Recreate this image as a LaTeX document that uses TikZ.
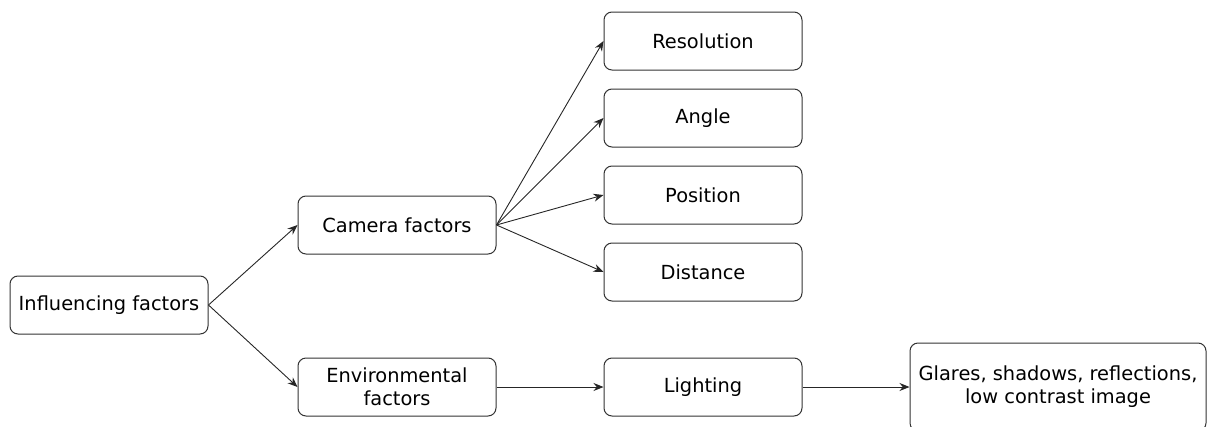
\documentclass[tikz,border=0pt]{standalone}
\usepackage{fontspec}
\setmainfont{DejaVu Sans}
\usetikzlibrary{arrows.meta}

\begin{document}
\begin{tikzpicture}[
    x=1pt, y=-1pt,
    factor/.style={draw=black!80, line width=1pt, rounded corners=8pt,
                   minimum width=198pt, minimum height=58pt, align=center,
                   inner sep=2pt, font=\fontsize{19.4}{23}\selectfont},
    link/.style={draw=black!85, line width=0.9pt, -{Stealth[length=10pt,width=8pt]}}
]
    \useasboundingbox (0,0) rectangle (1208,426);

    \node[factor] (infl)   at (109,305) {Influencing factors};
    \node[factor] (camera) at (397,225) {Camera factors};
    \node[factor] (env)    at (397,387) {Environmental\\factors};

    \node[factor] (res)    at (703,41)  {Resolution};
    \node[factor] (angle)  at (703,118) {Angle};
    \node[factor] (pos)    at (703,195) {Position};
    \node[factor] (dist)   at (703,272) {Distance};
    \node[factor] (light)  at (703,387) {Lighting};
    \node[factor, minimum width=296pt, minimum height=88pt] (glare) at (1058,387)
        {Glares, shadows, reflections,\\low contrast image};

    \path (infl.east)   edge[link] (camera.west)
          (infl.east)   edge[link] (env.west)
          (camera.east) edge[link] (res.west)
          (camera.east) edge[link] (angle.west)
          (camera.east) edge[link] (pos.west)
          (camera.east) edge[link] (dist.west)
          (env.east)    edge[link] (light.west)
          (light.east)  edge[link] (glare.west);
\end{tikzpicture}
\end{document}
